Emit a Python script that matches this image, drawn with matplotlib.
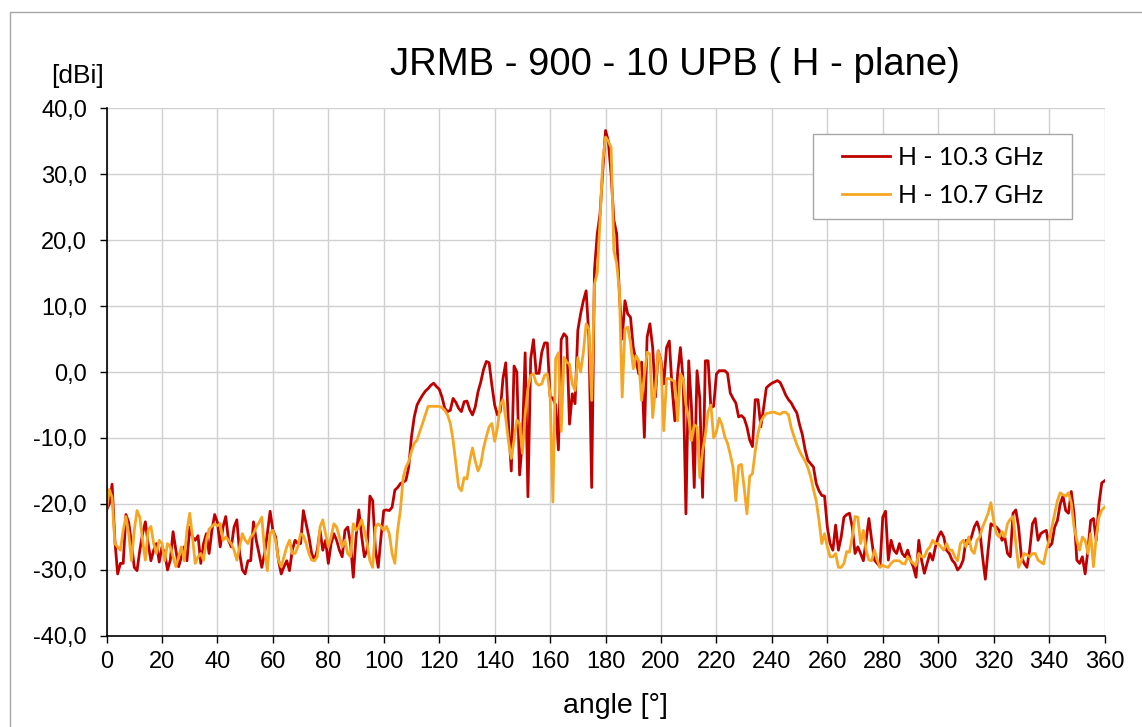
import numpy as np
import matplotlib.pyplot as plt
from matplotlib.patches import Rectangle
from matplotlib.ticker import FuncFormatter

# measured gain pattern, 1 degree steps from 0 to 360
angles = np.arange(0, 361, 1)

gain_103 = [
    -20.9, -20.0, -17.0, -25.5, -30.6, -29.0, -29.0, -21.6, -22.8, -26.0,
    -29.6, -30.1, -27.0, -24.5, -22.7, -26.0, -28.6, -27.0, -26.0, -28.8,
    -26.5, -27.5, -30.0, -28.5, -24.2, -27.0, -29.5, -28.0, -26.5, -28.6,
    -23.5, -25.0, -25.5, -24.8, -29.0, -26.0, -24.5, -27.5, -24.0, -21.6,
    -22.8, -26.5, -23.5, -21.9, -25.5, -26.5, -23.5, -22.4, -27.5, -30.0,
    -30.6, -28.6, -28.6, -22.7, -25.5, -27.5, -29.6, -27.5, -24.5, -21.1,
    -24.0, -25.0, -28.5, -30.6, -29.5, -28.6, -30.1, -27.0, -25.5, -26.0,
    -26.0, -21.0, -23.0, -25.0, -27.5, -28.5, -27.0, -24.0, -27.0, -25.5,
    -29.0, -26.0, -24.5, -25.5, -27.0, -28.0, -24.0, -23.5, -26.0, -31.1,
    -25.0, -20.9, -24.8, -28.0, -27.0, -18.8, -19.5, -27.0, -29.6, -25.0,
    -21.0, -20.9, -21.0, -20.5, -17.9, -17.5, -16.9, -16.7, -16.4, -14.4,
    -9.8, -6.8, -5.0, -4.2, -3.5, -2.9, -2.5, -2.0, -1.7, -2.2,
    -2.6, -3.8, -5.5, -6.0, -5.8, -4.0, -4.6, -5.5, -6.0, -4.5,
    -4.4, -5.7, -6.5, -5.3, -3.0, -1.5, 0.4, 1.6, 1.4, -2.0,
    -5.0, -6.5, -6.0, -1.0, 1.4, -8.0, -15.0, 0.9, 0.0, -15.6,
    -10.3, 2.9, -18.9, 2.0, 4.9, -0.2, -0.2, 3.0, 4.4, 4.4,
    -3.7, -4.0, -5.0, -11.8, 4.9, 5.8, 5.3, -7.9, -3.3, -4.8,
    6.3, 8.8, 10.8, 12.3, 5.3, -17.5, 15.4, 20.9, 23.9, 30.5,
    36.6, 35.0, 30.0, 23.0, 21.0, 11.8, 5.0, 10.8, 8.8, 8.3,
    3.7, 1.7, -0.3, 1.5, -9.9, 5.3, 7.3, 3.7, -3.8, 3.2,
    1.7, -1.8, 3.7, 4.7, -2.3, -7.4, -0.3, 3.7, -1.3, -21.5,
    1.7, -5.4, -17.5, 0.2, -4.0, -19.0, 1.7, 1.7, -5.4, -5.2,
    -0.3, 0.2, 0.2, 0.2, -0.2, -3.2, -4.0, -4.7, -6.8, -6.6,
    -7.0, -8.3, -10.3, -11.3, -4.2, -4.2, -8.3, -5.5, -2.4, -2.0,
    -1.7, -1.5, -1.3, -1.6, -2.5, -3.5, -4.2, -4.7, -5.5, -6.2,
    -8.0, -9.5, -11.8, -13.4, -13.9, -14.4, -16.9, -18.0, -18.7, -18.8,
    -23.5, -26.0, -27.0, -23.2, -27.0, -25.0, -22.0, -21.6, -21.4, -23.5,
    -27.5, -26.5, -27.5, -28.6, -25.5, -22.2, -25.5, -28.5, -29.0, -29.5,
    -22.0, -21.1, -28.5, -25.5, -27.0, -27.5, -26.0, -27.5, -28.0, -27.0,
    -28.5, -29.5, -31.1, -25.5, -28.5, -30.5, -29.0, -27.5, -28.5, -26.5,
    -25.0, -24.2, -25.0, -27.0, -27.5, -28.5, -29.0, -30.0, -29.5, -28.5,
    -25.5, -26.0, -25.0, -23.5, -22.7, -24.0, -28.0, -31.4, -27.0, -23.0,
    -23.3, -23.5, -24.0, -25.5, -25.0, -27.5, -28.0, -21.4, -20.9, -23.5,
    -28.0, -29.0, -29.6, -27.0, -23.0, -22.2, -25.5, -24.5, -24.2, -24.0,
    -26.5, -26.0, -23.5, -22.5, -20.0, -18.8, -21.0, -21.4, -18.1, -21.5,
    -28.5, -29.0, -28.0, -30.6, -27.0, -22.5, -22.2, -25.5, -20.0, -16.8,
    -16.5,
]

gain_107 = [
    -20.9, -17.8, -19.0, -26.0, -26.5, -27.0, -24.0, -21.9, -24.5, -28.6,
    -24.0, -21.0, -22.0, -25.5, -28.5, -24.0, -23.4, -26.0, -27.5, -25.5,
    -26.0, -28.6, -26.0, -26.5, -28.0, -29.5, -28.0, -26.5, -28.6, -24.0,
    -21.4, -25.0, -29.0, -28.0, -27.5, -28.5, -25.5, -23.8, -23.4, -23.0,
    -23.3, -23.0, -25.5, -25.0, -25.5, -26.0, -27.0, -28.5, -26.5, -24.5,
    -25.5, -26.0, -25.0, -24.5, -23.5, -22.8, -22.0, -27.0, -30.1, -24.5,
    -24.0, -25.5, -28.5, -29.5, -28.0, -26.5, -25.5, -27.5, -27.5, -26.5,
    -24.5, -24.8, -26.0, -27.5, -28.5, -28.6, -28.0, -23.5, -22.4, -24.5,
    -26.5, -25.0, -23.0, -23.5, -25.0, -26.5, -25.5, -27.5, -28.0, -23.0,
    -24.0, -23.5, -22.4, -24.0, -26.0, -28.6, -29.6, -23.5, -23.0, -23.4,
    -24.0, -23.4, -24.5, -27.5, -29.0, -24.0, -20.9, -16.0, -14.4, -13.6,
    -12.0, -10.8, -10.3, -9.0, -7.8, -6.5, -5.2, -5.2, -5.2, -5.2,
    -5.2, -5.4, -5.8, -6.5, -7.8, -10.3, -13.9, -17.4, -18.0, -16.0,
    -16.2, -13.5, -11.5, -13.5, -15.0, -14.0, -11.5, -9.8, -8.3, -7.8,
    -10.5, -8.5, -5.0, -4.2, -7.0, -10.5, -13.1, -10.3, -7.3, -7.8,
    -12.3, -6.5, -2.5, -0.5, -0.3, -1.7, -2.0, -1.8, -0.5, -0.3,
    -3.5, -19.7, 2.0, 2.9, -9.0, 2.2, 1.5, 1.2, -1.8, -2.8,
    2.2, 0.0, 3.0, 7.3, 6.5, -4.3, 13.3, 15.0, 22.9, 32.0,
    35.6, 35.0, 34.0, 18.4, 16.5, 12.3, -3.8, 6.5, 6.8, 4.5,
    0.5, 2.5, 1.7, -4.3, -0.5, 3.0, 2.7, -6.9, -2.5, 3.2,
    1.5, -8.9, -1.0, -1.0, -1.2, -1.5, -7.4, -0.3, -1.0, -5.0,
    -7.0, -10.4, -8.0, -8.3, -16.0, -12.0, -9.5, -6.0, -5.0, -10.0,
    -9.0, -7.0, -8.0, -9.8, -10.8, -12.5, -14.5, -19.5, -14.2, -14.0,
    -17.5, -21.5, -15.8, -15.4, -12.0, -9.3, -7.5, -6.8, -6.3, -6.2,
    -6.1, -6.1, -6.3, -6.4, -6.1, -6.1, -6.5, -8.5, -9.8, -11.0,
    -12.0, -12.8, -13.5, -14.5, -15.9, -17.8, -19.5, -22.5, -26.0, -24.5,
    -26.5, -28.0, -28.0, -27.5, -29.6, -29.6, -29.0, -27.2, -27.3, -25.0,
    -21.9, -22.0, -26.0, -24.0, -27.0, -28.5, -28.6, -27.0, -28.5, -29.6,
    -29.3, -29.5, -29.6, -29.0, -28.6, -28.6, -28.6, -29.0, -29.1, -28.0,
    -28.6, -29.0, -29.3, -27.5, -28.0, -28.0, -27.0, -26.5, -25.5, -26.0,
    -26.0, -26.5, -27.0, -26.0, -27.0, -27.0, -28.0, -28.6, -26.0, -25.5,
    -26.5, -25.0, -27.0, -27.5, -25.5, -25.0, -23.5, -22.5, -21.4, -19.8,
    -22.5, -24.5, -25.0, -24.2, -25.0, -23.0, -22.3, -21.9, -26.0, -29.6,
    -28.6, -27.5, -27.7, -28.0, -27.5, -27.5, -28.5, -28.8, -29.1, -27.0,
    -25.5, -23.5, -21.5, -19.5, -18.3, -18.6, -18.8, -18.3, -19.8, -23.5,
    -25.5, -27.0, -25.0, -25.5, -27.5, -24.5, -29.5, -25.0, -22.0, -20.9,
    -20.5,
]

series_labels = ["H - 10.3 GHz", "H - 10.7 GHz"]
x_ticks = list(range(0, 361, 20))
y_ticks = list(range(-40, 41, 10))

plt.rcParams['font.family'] = ['Liberation Sans', 'DejaVu Sans']

fig = plt.figure(figsize=(11.42, 7.27), dpi=100)
ax = fig.add_axes([0.0933, 0.1252, 0.8739, 0.7262])

ax.plot(angles, gain_103, color="#C00000", linewidth=2.0, label=series_labels[0])
ax.plot(angles, gain_107, color="#F5A623", linewidth=2.0, label=series_labels[1])

ax.set_xlim(0, 360)
ax.set_ylim(-40, 40)
ax.set_xticks(x_ticks)
ax.set_yticks(y_ticks)
ax.yaxis.set_major_formatter(FuncFormatter(lambda v, p: f"{v:.1f}".replace(".", ",")))
ax.grid(True, color="#D0D0D0", linewidth=1.0)
ax.set_axisbelow(True)

for side in ["top", "right"]:
    ax.spines[side].set_visible(False)
for side in ["left", "bottom"]:
    ax.spines[side].set_color("black")
    ax.spines[side].set_linewidth(1.2)

ax.tick_params(axis="both", direction="out", length=5, width=1.0, labelsize=17, colors="black")
ax.tick_params(axis="y", pad=9)
ax.tick_params(axis="x", pad=6)

# legend box drawn separately so the padding matches the original
ax.add_patch(Rectangle((0.708, 0.790), 0.259, 0.161, transform=ax.transAxes,
                       facecolor="white", edgecolor="#A6A6A6", linewidth=1.0, zorder=4))
leg = ax.legend(loc="center", bbox_to_anchor=(0.8375, 0.8705), frameon=False,
                handlelength=1.92, handletextpad=0.3, borderaxespad=0, borderpad=0,
                prop={"family": "Lato", "size": 18}, labelspacing=0.6)
leg.set_zorder(5)

fig.text(675 / 1142, 1 - 65 / 727, "JRMB - 900 - 10 UPB ( H - plane)",
         ha="center", va="center", fontsize=27.5)
fig.text(78 / 1142, 1 - 76 / 727, "[dBi]", ha="center", va="center", fontsize=19)
fig.text(615 / 1142, 1 - 706 / 727, "angle [°]", ha="center", va="center", fontsize=20.5)

# outer chart border (only left and top edges fall inside the image)
fig.patches.append(Rectangle((10 / 1142, -0.1), 1.2, 1.1 - 12 / 727, transform=fig.transFigure,
                             fill=False, edgecolor="#A6A6A6", linewidth=1.0))

fig.savefig("out.png", dpi=100)
